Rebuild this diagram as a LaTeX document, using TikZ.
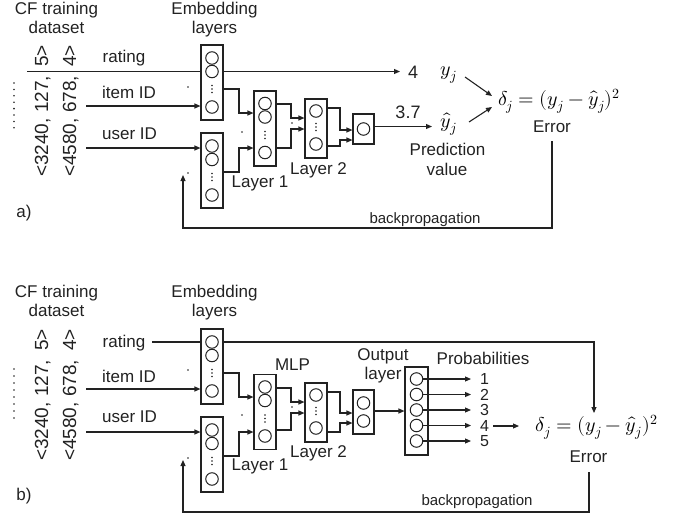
\documentclass[tikz,border=0pt]{standalone}
\usepackage{fontspec}
\usepackage{unicode-math}
\setmainfont{Liberation Sans}
\setmathfont{Latin Modern Math}
\usetikzlibrary{arrows.meta,calc}
\definecolor{ink}{HTML}{222222}
\begin{document}
\begin{tikzpicture}[x=1pt,y=-1pt,
  lbl/.style={font=\fontsize{17}{19}\selectfont, inner sep=0pt, anchor=base, text=ink},
  big/.style={font=\fontsize{18}{20}\selectfont, inner sep=0pt, anchor=base, text=ink},
  sml/.style={font=\fontsize{15}{17}\selectfont, inner sep=0pt, anchor=base, text=ink},
  num/.style={font=\fontsize{16}{18}\selectfont, inner sep=0pt, anchor=center, text=ink},
  mth/.style={font=\fontsize{20}{22}\selectfont, inner sep=0pt, anchor=center, text=black},
  rot/.style={font=\fontsize{19}{21}\selectfont, inner sep=0pt, rotate=90, anchor=base west, text=ink},
  lbox/.style={draw=ink, line width=1.1pt, fill=white, minimum width=22pt, inner sep=0pt, rectangle},
  neu/.style={circle, draw=ink, line width=1pt, minimum size=12.5pt, inner sep=0pt},
  ln/.style={draw=ink, line width=1.1pt},
  arr/.style={draw=ink, line width=1.1pt, -{Triangle[length=6pt,width=5pt]}}
]
\useasboundingbox (0,0) rectangle (688,514);
\newcommand\vdts[2]{\fill[ink] (#1,#2-3.5) circle[radius=0.9pt] (#1,#2) circle[radius=0.9pt] (#1,#2+3.5) circle[radius=0.9pt];}
\newcommand\sdot[2]{\fill[ink] (#1,#2) circle[radius=0.9pt];}

% ================= PANEL A =================
\node[lbl] (cfa) at (56.5,14) {CF training};
\node[lbl] (dsa) at (56.5,33) {dataset};
\node[lbl] (ema) at (214.5,14) {Embedding};
\node[lbl] (lya) at (214.5,33) {layers};
\node[rot] (ta1) at (48,177) {<3240, 127,\hspace{9pt}5>};
\node[rot] (ta2) at (76,177) {<4580, 678,\hspace{9pt}4>};
\foreach \k in {0,...,7} {\fill[ink] (14,83+6.4*\k) circle[radius=0.9pt];}
\node[lbl] (rta) at (124,62) {rating};
\node[lbl] (ita) at (129,98) {item ID};
\node[lbl] (usa) at (129.5,139) {user ID};

% boxes
\node[lbox, minimum height=75pt] (E1a) at (212,82.5) {};
\node[neu] (e1a1) at (212,58) {};
\node[neu] (e1a2) at (212,71.5) {};
\vdts{212}{89}
\node[neu] (e1a4) at (212,107) {};
\node[lbox, minimum height=75pt] (E2a) at (212,170.5) {};
\node[neu] (e2a1) at (212,146) {};
\node[neu] (e2a2) at (212,159.5) {};
\vdts{212}{177}
\node[neu] (e2a4) at (212,195) {};
\node[lbox, minimum height=75pt] (L1a) at (265,128.5) {};
\node[neu] (l1a1) at (265,103.5) {};
\node[neu] (l1a2) at (265,117) {};
\vdts{265}{135}
\node[neu] (l1a4) at (265,152.5) {};
\node[lbox, minimum height=59pt] (L2a) at (316,128.5) {};
\node[neu] (l2a1) at (316,111) {};
\vdts{316}{127}
\node[neu] (l2a3) at (316,144) {};
\node[lbox, minimum width=21pt, minimum height=30pt] (Oa) at (363.5,129) {};
\node[neu] (oa1) at (363.5,129) {};
\node[lbl] (l1la) at (260,187) {Layer 1};
\node[lbl] (l2la) at (318.5,174) {Layer 2};

% stray dots
\sdot{188}{87}\sdot{188}{173}\sdot{242}{132}\sdot{292}{123}

% connectors
\coordinate (ra0) at (27,71.5);
\coordinate (ra1) at (400,71.5);
\draw[ln] (ra0) -- (ra0 -| E1a.west);
\draw[arr] (ra1 -| E1a.east) -- (ra1);
\coordinate (ia0) at (86,106);
\coordinate (ua0) at (86,148);
\draw[arr] (ia0) -- (ia0 -| E1a.west);
\draw[arr] (ua0) -- (ua0 -| E2a.west);
\draw[arr] (223,89) -- (239,89) -- (239,113) -- (L1a.west |- 0,113);
\draw[arr] (223,172) -- (239,172) -- (239,148) -- (L1a.west |- 0,148);
\draw[arr] (276,104) -- (291,104) -- (291,118) -- (L2a.west |- 0,118);
\draw[arr] (276,148) -- (291,148) -- (291,129) -- (L2a.west |- 0,129);
\draw[arr] (327,108) -- (340,108) -- (340,130) -- (Oa.west |- 0,130);
\draw[arr] (327,146) -- (340,146) -- (340,140) -- (Oa.west |- 0,140);
\coordinate (oa2) at (432,126.5);
\draw[arr] (Oa.east |- oa2) -- (oa2);

\node[big] (fra) at (413,78) {4};
\node[big] (t37) at (408,118) {3.7};
\node[mth] (yja) at (449,75) {$y_j$};
\node[mth] (yha) at (449,124) {$\hat{y}_j$};
\node[mth] (fa) at (559,101) {$\delta_j = (y_j - \hat{y}_j)^2$};
\coordinate (ya0) at (465,77);
\coordinate (ya1) at (492,96);
\coordinate (yh0) at (469,122);
\coordinate (yh1) at (492,107);
\draw[arr] (ya0) -- (ya1);
\draw[arr] (yh0) -- (yh1);
\node[lbl] (era) at (552,132) {Error};
\node[lbl] (pra) at (447.5,155) {Prediction};
\node[lbl] (vaa) at (447,175) {value};
\coordinate (ba0) at (552,141);
\coordinate (ba1) at (183,175);
\draw[arr] (ba0) -- (552,228) -- (183,228) -- (ba1);
\node[sml] (bpa) at (425,223) {backpropagation};
\node[lbl] (laba) at (24,217) {a)};

% ================= PANEL B =================
\node[lbl] (cfb) at (56.5,297) {CF training};
\node[lbl] (dsb) at (56.5,316) {dataset};
\node[lbl] (emb) at (214.5,297) {Embedding};
\node[lbl] (lyb) at (214.5,316) {layers};
\node[rot] (tb1) at (48,461) {<3240, 127,\hspace{9pt}5>};
\node[rot] (tb2) at (76,461) {<4580, 678,\hspace{9pt}4>};
\foreach \k in {0,...,7} {\fill[ink] (14,369+7*\k) circle[radius=0.9pt];}
\node[lbl] (rtb) at (124,347) {rating};
\node[lbl] (itb) at (129,382) {item ID};
\node[lbl] (usb) at (129.5,422) {user ID};

\node[lbox, minimum height=75pt] (E1b) at (212,366.5) {};
\node[neu] (e1b1) at (212,342) {};
\node[neu] (e1b2) at (212,355.5) {};
\vdts{212}{373}
\node[neu] (e1b4) at (212,391) {};
\node[lbox, minimum height=75pt] (E2b) at (212,454.5) {};
\node[neu] (e2b1) at (212,430) {};
\node[neu] (e2b2) at (212,443.5) {};
\vdts{212}{461}
\node[neu] (e2b4) at (212,479) {};
\node[lbox, minimum height=75pt] (L1b) at (265,412) {};
\node[neu] (l1b1) at (265,387) {};
\node[neu] (l1b2) at (265,400.5) {};
\vdts{265}{418.5}
\node[neu] (l1b4) at (265,436) {};
\node[lbox, minimum height=59pt] (L2b) at (316,412.5) {};
\node[neu] (l2b1) at (316,395) {};
\vdts{316}{411}
\node[neu] (l2b3) at (316,428) {};
\node[lbox, minimum width=21pt, minimum height=44pt] (Ob) at (363.5,412) {};
\node[neu] (ob1) at (363.5,403) {};
\node[neu] (ob2) at (363.5,421) {};
\node[lbox, minimum width=23pt, minimum height=88pt] (Pb) at (416.5,411) {};
\foreach \i/\yy in {1/379,2/394.5,3/410,4/425.5,5/441} {
  \node[neu] (pc\i) at (416.5,\yy) {};
  \node[num] (pn\i) at (484.5,\yy) {\i};
  \draw[arr] (pc\i.east) -- (471,\yy);
}
\node[lbl] (mlp) at (292.5,370) {MLP};
\node[lbl] (oub) at (383,360) {Output};
\node[lbl] (olb) at (383,379) {layer};
\node[lbl] (prb) at (483,364) {Probabilities};
\node[lbl] (l1lb) at (260,470) {Layer 1};
\node[lbl] (l2lb) at (318.5,457) {Layer 2};

\sdot{188}{370}\sdot{188}{458}\sdot{242}{415}\sdot{292}{407}

\coordinate (rb0) at (152,342);
\draw[ln] (rb0) -- (rb0 -| E1b.west);
\node[mth] (fb) at (596.5,427) {$\delta_j = (y_j - \hat{y}_j)^2$};
\draw[arr] (E1b.east |- rb0) -- (594,342) -- (594,413);
\coordinate (ib0) at (86,389);
\coordinate (ub0) at (86,432);
\draw[arr] (ib0) -- (ib0 -| E1b.west);
\draw[arr] (ub0) -- (ub0 -| E2b.west);
\draw[arr] (223,373) -- (239,373) -- (239,397) -- (L1b.west |- 0,397);
\draw[arr] (223,456) -- (239,456) -- (239,432) -- (L1b.west |- 0,432);
\draw[arr] (276,388) -- (291,388) -- (291,402) -- (L2b.west |- 0,402);
\draw[arr] (276,430) -- (291,430) -- (291,413) -- (L2b.west |- 0,413);
\draw[arr] (327,392) -- (340,392) -- (340,413) -- (Ob.west |- 0,413);
\draw[arr] (327,432) -- (340,432) -- (340,423) -- (Ob.west |- 0,423);
\draw[arr] (Ob.east |- 0,411) -- (Pb.west |- 0,411);
\draw[arr] (493,426) -- (519,426);
\node[lbl] (erb) at (588.5,462) {Error};
\draw[arr] (589,472) -- (589,512) -- (183,512) -- (183,460);
\node[sml] (bpb) at (477,505) {backpropagation};
\node[lbl] (labb) at (24,500) {b)};
\end{tikzpicture}
\end{document}
